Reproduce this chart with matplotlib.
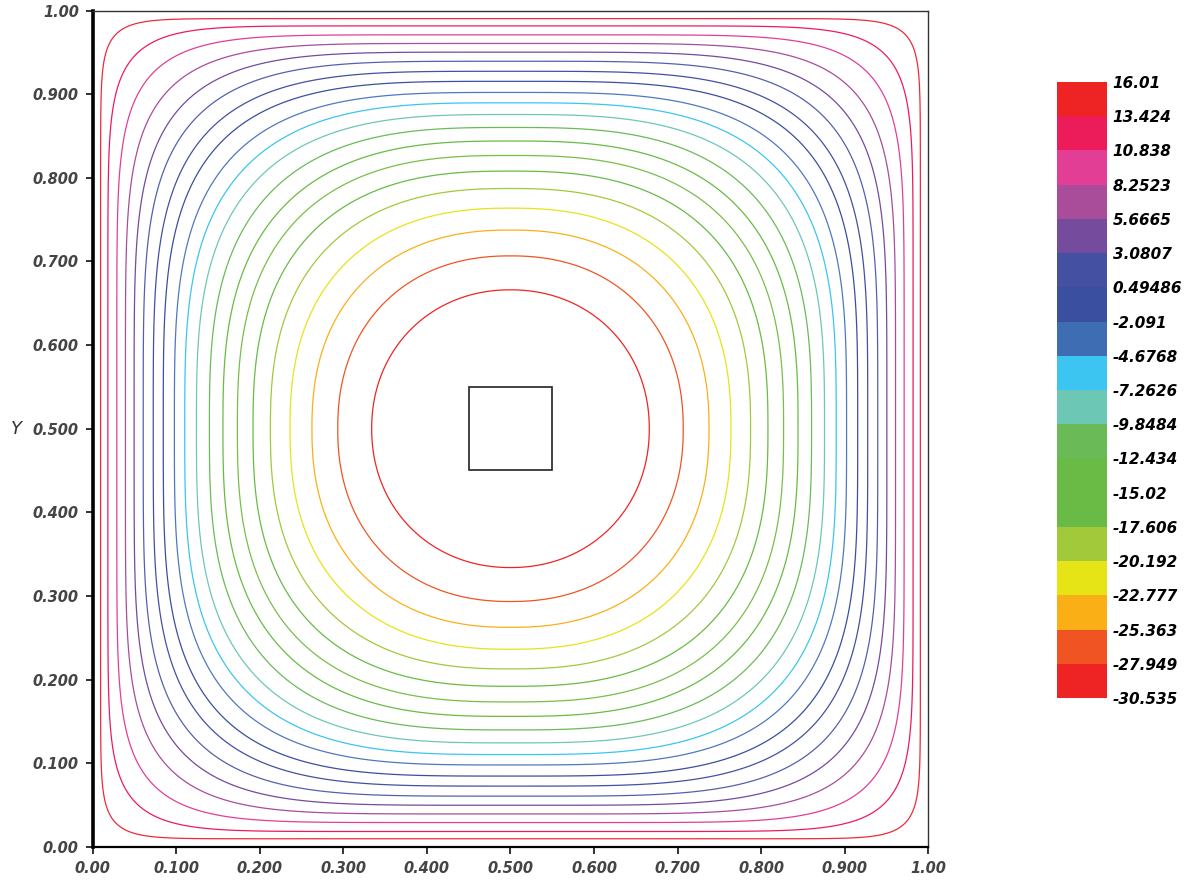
import numpy as np
import matplotlib.pyplot as plt
from matplotlib.colors import ListedColormap, BoundaryNorm
from matplotlib.cm import ScalarMappable

########### data ###########

# colour bar, top to bottom
bar_labels = ['16.01', '13.424', '10.838', '8.2523', '5.6665', '3.0807', '0.49486',
              '-2.091', '-4.6768', '-7.2626', '-9.8484', '-12.434', '-15.02',
              '-17.606', '-20.192', '-22.777', '-25.363', '-27.949', '-30.535']
bar_colors = ['#ee2424', '#ec1c5a', '#e23e96', '#a94c9a', '#744b9d', '#4451a2',
              '#3a4fa0', '#3f6db3', '#3cc5f0', '#6dc7b5', '#6bba58', '#69bb45',
              '#69bb45', '#a1c93a', '#e6e417', '#fbaf17', '#f05423', '#ee2424']

# contour lines, outer to inner: distance from the wall on the centre lines,
# squareness of each loop, colour
line_gap = [0.0095, 0.0182, 0.0289, 0.0392, 0.0496, 0.0605, 0.0725, 0.0845,
            0.0978, 0.1102, 0.1242, 0.1397, 0.1559, 0.1732, 0.1919, 0.2127,
            0.2362, 0.2624, 0.2933, 0.3339]
line_power = [18, 9.5, 7, 5.6, 4.8, 4.3, 3.95, 3.7, 3.45, 3.25, 3.1, 2.95, 2.8,
              2.7, 2.6, 2.5, 2.4, 2.3, 2.2, 2.08]
line_colors = ['#ee2a3a', '#ec1c5a', '#e23e96', '#a94c9a', '#744b9d', '#5560ad',
               '#4451a2', '#3a4fa0', '#4f78bd', '#3cc5f0', '#6dc7b5', '#6bba58',
               '#69bb45', '#78bf4a', '#69bb45', '#a1c93a', '#e6e417', '#fbaf17',
               '#f05423', '#ee2424']

ticks = [0.0, 0.1, 0.2, 0.3, 0.4, 0.5, 0.6, 0.7, 0.8, 0.9, 1.0]
tick_labels = ['0.00', '0.100', '0.200', '0.300', '0.400', '0.500', '0.600',
               '0.700', '0.800', '0.900', '1.00']

########### main plot ###########

fig = plt.figure(figsize=(11.88, 8.83), dpi=100)
ax = fig.add_axes([0.078, 0.0411, 0.7034, 0.9468])

g = np.linspace(0, 1, 1201)
X, Y = np.meshgrid(g, g)
u = np.abs(X - 0.5)
v = np.abs(Y - 0.5)
for gap, pw, col in zip(line_gap, line_power, line_colors):
	r = (u**pw + v**pw)**(1.0/pw)
	ax.contour(X, Y, r, levels=[0.5 - gap], colors=[col], linewidths=0.9)

# obstacle
ax.add_patch(plt.Rectangle((0.45, 0.45), 0.1, 0.1, fill=False, ec='#222222', lw=1.2))

ax.set_xlim(0, 1)
ax.set_ylim(0, 1)
ax.set_xticks(ticks)
ax.set_yticks(ticks)
ax.set_xticklabels(tick_labels)
ax.set_yticklabels(tick_labels)
for lab in ax.get_xticklabels() + ax.get_yticklabels():
	lab.set_fontstyle('italic')
	lab.set_fontweight('bold')
	lab.set_color('#444444')
	lab.set_fontsize(10.5)
ax.tick_params(direction='out', length=5, width=1.3, color='#222222', pad=5)
ax.spines['left'].set_linewidth(2.6)
ax.spines['bottom'].set_linewidth(1.6)
ax.spines['top'].set_linewidth(1.0)
ax.spines['right'].set_linewidth(1.0)
ax.spines['top'].set_color('#333333')
ax.spines['right'].set_color('#333333')
ax.set_ylabel('Y', rotation=0, fontstyle='italic', fontsize=13, color='#333333',
              labelpad=12, va='center')

########### colour bar ###########

bounds = [float(s) for s in bar_labels][::-1]
cmap = ListedColormap(bar_colors[::-1])
norm = BoundaryNorm(bounds, cmap.N)
cax = fig.add_axes([0.8897, 0.2095, 0.0421, 0.6976])
cb = fig.colorbar(ScalarMappable(norm=norm, cmap=cmap), cax=cax, ticks=bounds,
                  spacing='uniform')
cb.outline.set_visible(False)
cax.set_yticklabels(bar_labels[::-1])
cax.tick_params(length=0, pad=4)
for lab in cax.get_yticklabels():
	lab.set_fontstyle('italic')
	lab.set_fontweight('bold')
	lab.set_fontsize(11)

plt.savefig('out.png', dpi=100)
